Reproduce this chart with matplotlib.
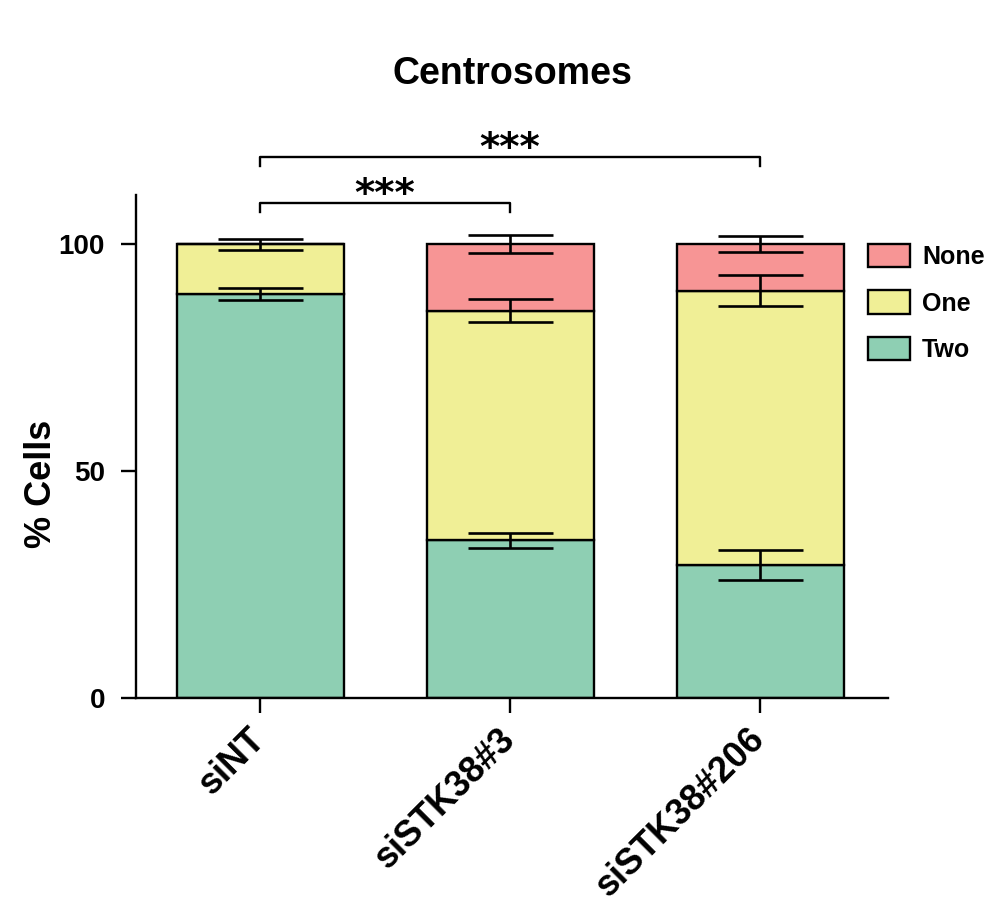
import matplotlib
matplotlib.use("Agg")
import matplotlib.pyplot as plt
from matplotlib.patches import Patch
import numpy as np

plt.rcParams['font.family'] = ['Liberation Sans', 'DejaVu Sans']

categories = ["siNT", "siSTK38#3", "siSTK38#206"]
two = [89.0, 34.7, 29.4]
one = [11.0, 50.6, 60.3]
none = [0.0, 14.7, 10.3]
two_err = [1.3, 1.65, 3.3]
one_err = [1.2, 2.5, 3.4]
none_err = [0.0, 1.9, 1.8]

# significance brackets: (left index, right index, label)
comparisons = [(0, 1, "***"), (0, 2, "***")]

colors = {"None": "#f79595", "One": "#f0ef96", "Two": "#8ecfb3"}

fig = plt.figure(figsize=(9.92, 9.05), dpi=100)
ax = fig.add_axes([0.1371, 0.2287, 0.7581, 0.5558])

x = np.arange(len(categories))
width = 0.668
two = np.array(two)
one = np.array(one)
none = np.array(none)

ax.bar(x, two, width, color=colors["Two"], edgecolor="black", linewidth=1.7, zorder=2)
ax.bar(x, one, width, bottom=two, color=colors["One"], edgecolor="black", linewidth=1.7, zorder=2)
ax.bar(x, none, width, bottom=two + one, color=colors["None"], edgecolor="black", linewidth=1.7, zorder=2)

err_style = dict(fmt="none", ecolor="black", elinewidth=1.9, capsize=30.6, capthick=1.9, zorder=3)
ax.errorbar(x, two, yerr=two_err, **err_style)
ax.errorbar(x, two + one, yerr=one_err, **err_style)
mask = none > 0
ax.errorbar(x[mask], (two + one + none)[mask], yerr=np.array(none_err)[mask], **err_style)

ax.set_xlim(-0.496, 2.512)
ax.set_ylim(0, 110.8)
ax.set_yticks([0, 50, 100])
ax.set_xticks(x)
ax.set_xticklabels(categories, rotation=45, ha="right", va="center", rotation_mode="anchor",
                   fontsize=26, fontweight="bold")
for lab in ax.get_yticklabels():
    lab.set_fontsize(20)
    lab.set_fontweight("bold")

ax.spines["top"].set_visible(False)
ax.spines["right"].set_visible(False)
ax.spines["left"].set_linewidth(1.7)
ax.spines["bottom"].set_linewidth(1.7)
ax.tick_params(axis="y", length=10.8, width=1.7, pad=11.5)
ax.tick_params(axis="x", length=10.8, width=1.7, pad=15)

ax.set_ylabel("% Cells", fontsize=26, fontweight="bold")
ax.yaxis.set_label_coords(-0.103, 0.426)
ax.set_title("Centrosomes", fontsize=27, fontweight="bold", pad=80)

# brackets
levels = [109.0, 119.2]
drop = 2.0
for (i, j, txt), y in zip(comparisons, levels):
    ax.plot([x[i], x[i], x[j], x[j]], [y - drop, y, y, y - drop], color="black",
            linewidth=1.7, clip_on=False)
    ax.text((x[i] + x[j]) / 2, y - 2.4, txt, ha="center", va="bottom", fontsize=28,
            family="DejaVu Sans", fontweight="bold", clip_on=False)

handles = [Patch(facecolor=colors[k], edgecolor="black", linewidth=1.7, label=k)
           for k in ["None", "One", "Two"]]
ax.legend(handles=handles, loc="upper left", bbox_to_anchor=(868 / 992, 1 - 244 / 905),
          bbox_transform=fig.transFigure, frameon=False, borderpad=0, borderaxespad=0,
          handlelength=1.68, handleheight=1.05, handletextpad=0.48, labelspacing=0.85,
          prop={"weight": "bold", "size": 18})

fig.savefig("out.png", dpi=100)
